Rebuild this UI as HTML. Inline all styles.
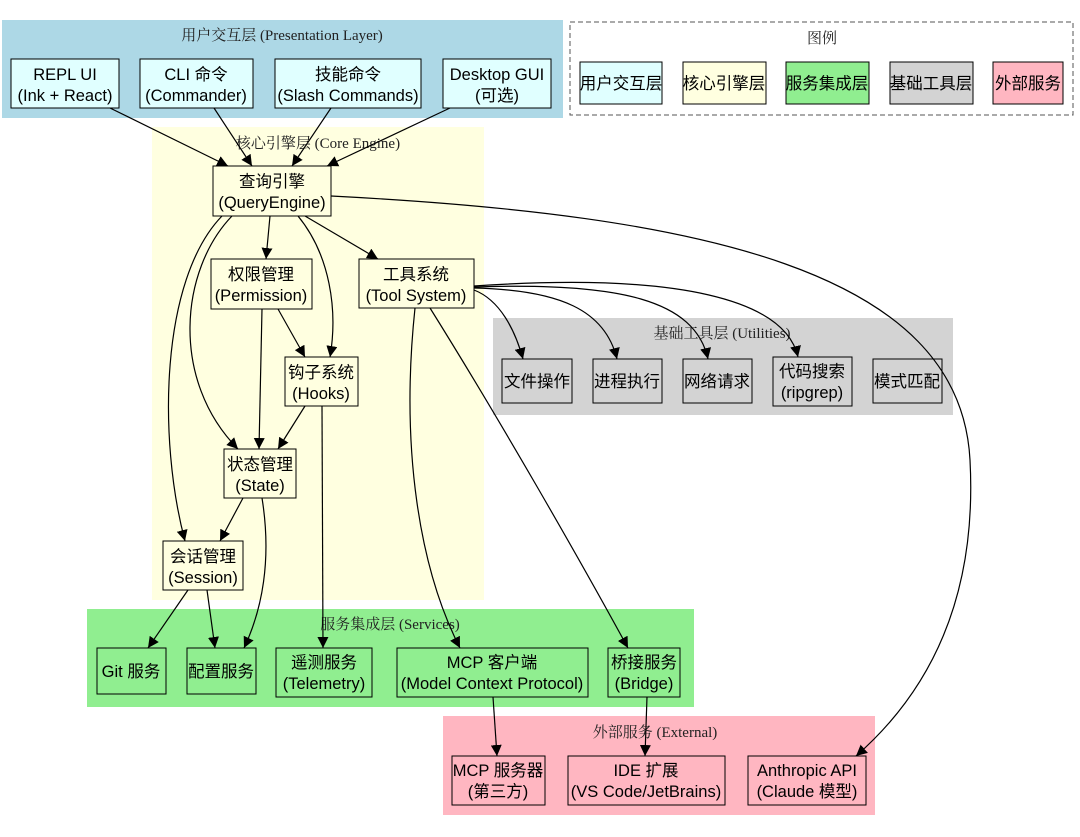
<!DOCTYPE html>
<html><head><meta charset="utf-8"><style>
html,body{margin:0;padding:0;background:#fff}
svg{display:block}
.n{font-family:"Liberation Sans","Noto Sans CJK SC",sans-serif;font-size:16.5px;fill:#000;text-anchor:middle}
.t{font-family:"Liberation Serif","Noto Serif CJK SC",serif;font-size:15px;fill:#222;text-anchor:middle}
.b{stroke:#000;stroke-width:1}
.e{fill:none;stroke:#000;stroke-width:1.2;marker-end:url(#a)}
</style></head><body>
<svg width="1080" height="837" viewBox="0 0 1080 837" xmlns="http://www.w3.org/2000/svg">
<defs><marker id="a" viewBox="0 0 10 10" refX="10" refY="5" markerWidth="11" markerHeight="11" markerUnits="userSpaceOnUse" orient="auto"><path d="M0,0 L10,5 L0,10 z" fill="#000"/></marker></defs>
<rect x="2" y="20" width="561" height="98" fill="#add8e6"/>
<text class="t" x="282" y="40">用户交互层 (Presentation Layer)</text>
<rect x="152" y="127" width="332" height="473" fill="#ffffe0"/>
<text class="t" x="318" y="148">核心引擎层 (Core Engine)</text>
<rect x="493" y="318" width="460" height="97" fill="#d3d3d3"/>
<text class="t" x="722" y="338">基础工具层 (Utilities)</text>
<rect x="87" y="609" width="607" height="98" fill="#90ee90"/>
<text class="t" x="390" y="629">服务集成层 (Services)</text>
<rect x="443" y="716" width="432" height="99" fill="#ffb6c1"/>
<text class="t" x="655" y="737">外部服务 (External)</text>
<rect x="570" y="22" width="503" height="93" fill="#fff" stroke="#555" stroke-dasharray="5,3"/>
<text class="t" x="822" y="43">图例</text>
<rect class="b" x="580" y="62" width="82" height="42" fill="#e0ffff"/><text class="n" x="621" y="89">用户交互层</text>
<rect class="b" x="683" y="62" width="83" height="42" fill="#ffffe0"/><text class="n" x="724" y="89">核心引擎层</text>
<rect class="b" x="786" y="62" width="83" height="42" fill="#90ee90"/><text class="n" x="827" y="89">服务集成层</text>
<rect class="b" x="890" y="62" width="83" height="42" fill="#d3d3d3"/><text class="n" x="931" y="89">基础工具层</text>
<rect class="b" x="993" y="62" width="70" height="42" fill="#ffb6c1"/><text class="n" x="1028" y="89">外部服务</text>
<rect class="b" x="11" y="59" width="108" height="49" fill="#e0ffff"/><text class="n" x="65" y="80">REPL UI</text><text class="n" x="65" y="101">(Ink + React)</text>
<rect class="b" x="140" y="59" width="113" height="49" fill="#e0ffff"/><text class="n" x="196" y="80">CLI 命令</text><text class="n" x="196" y="101">(Commander)</text>
<rect class="b" x="275" y="59" width="146" height="49" fill="#e0ffff"/><text class="n" x="348" y="80">技能命令</text><text class="n" x="348" y="101">(Slash Commands)</text>
<rect class="b" x="443" y="59" width="108" height="49" fill="#e0ffff"/><text class="n" x="497" y="80">Desktop GUI</text><text class="n" x="497" y="101">(可选)</text>
<rect class="b" x="213" y="166" width="118" height="50" fill="#ffffe0"/><text class="n" x="272" y="187">查询引擎</text><text class="n" x="272" y="208">(QueryEngine)</text>
<rect class="b" x="211" y="259" width="101" height="50" fill="#ffffe0"/><text class="n" x="261" y="280">权限管理</text><text class="n" x="261" y="301">(Permission)</text>
<rect class="b" x="359" y="259" width="115" height="49" fill="#ffffe0"/><text class="n" x="416" y="280">工具系统</text><text class="n" x="416" y="301">(Tool System)</text>
<rect class="b" x="285" y="357" width="73" height="49" fill="#ffffe0"/><text class="n" x="321" y="378">钩子系统</text><text class="n" x="321" y="399">(Hooks)</text>
<rect class="b" x="224" y="449" width="72" height="49" fill="#ffffe0"/><text class="n" x="260" y="470">状态管理</text><text class="n" x="260" y="491">(State)</text>
<rect class="b" x="163" y="541" width="80" height="49" fill="#ffffe0"/><text class="n" x="203" y="562">会话管理</text><text class="n" x="203" y="583">(Session)</text>
<rect class="b" x="502" y="359" width="70" height="44" fill="#d3d3d3"/><text class="n" x="537" y="387">文件操作</text>
<rect class="b" x="593" y="359" width="69" height="44" fill="#d3d3d3"/><text class="n" x="627" y="387">进程执行</text>
<rect class="b" x="683" y="359" width="69" height="44" fill="#d3d3d3"/><text class="n" x="717" y="387">网络请求</text>
<rect class="b" x="773" y="357" width="79" height="49" fill="#d3d3d3"/><text class="n" x="812" y="377">代码搜索</text><text class="n" x="812" y="398">(ripgrep)</text>
<rect class="b" x="873" y="359" width="69" height="44" fill="#d3d3d3"/><text class="n" x="907" y="387">模式匹配</text>
<rect class="b" x="97" y="648" width="69" height="46" fill="#90ee90"/><text class="n" x="131" y="677">Git 服务</text>
<rect class="b" x="187" y="648" width="69" height="46" fill="#90ee90"/><text class="n" x="221" y="677">配置服务</text>
<rect class="b" x="276" y="648" width="96" height="49" fill="#90ee90"/><text class="n" x="324" y="668">遥测服务</text><text class="n" x="324" y="689">(Telemetry)</text>
<rect class="b" x="397" y="648" width="191" height="49" fill="#90ee90"/><text class="n" x="492" y="668">MCP 客户端</text><text class="n" x="492" y="689">(Model Context Protocol)</text>
<rect class="b" x="608" y="648" width="72" height="49" fill="#90ee90"/><text class="n" x="644" y="668">桥接服务</text><text class="n" x="644" y="689">(Bridge)</text>
<rect class="b" x="452" y="756" width="93" height="49" fill="#ffb6c1"/><text class="n" x="498" y="776">MCP 服务器</text><text class="n" x="498" y="797">(第三方)</text>
<rect class="b" x="568" y="756" width="157" height="49" fill="#ffb6c1"/><text class="n" x="646" y="776">IDE 扩展</text><text class="n" x="646" y="797">(VS Code/JetBrains)</text>
<rect class="b" x="748" y="756" width="118" height="49" fill="#ffb6c1"/><text class="n" x="807" y="776">Anthropic API</text><text class="n" x="807" y="797">(Claude 模型)</text>
<path class="e" d="M110,108 L228,166"/>
<path class="e" d="M214,108 L252,166"/>
<path class="e" d="M331,108 L292,166"/>
<path class="e" d="M450,108 L327,166"/>
<path class="e" d="M270,216 L266,259"/>
<path class="e" d="M305,216 L378,259"/>
<path class="e" d="M298,216 C330,255 338,310 330,357"/>
<path class="e" d="M232,216 C180,270 170,380 238,449"/>
<path class="e" d="M222,216 C160,280 158,440 185,541"/>
<path class="e" d="M331,196 C700,215 960,270 970,460 C978,610 920,700 856,756"/>
<path class="e" d="M278,309 L305,357"/>
<path class="e" d="M262,309 L259,449"/>
<path class="e" d="M305,406 L278,449"/>
<path class="e" d="M322,406 L323,648"/>
<path class="e" d="M243,498 L220,541"/>
<path class="e" d="M262,498 C272,560 262,610 244,648"/>
<path class="e" d="M188,590 L148,648"/>
<path class="e" d="M207,590 L215,648"/>
<path class="e" d="M474,290 C500,300 515,330 523,359"/>
<path class="e" d="M474,288 C560,290 605,310 617,359"/>
<path class="e" d="M474,287 C620,282 695,300 708,359"/>
<path class="e" d="M474,286 C680,272 785,300 798,357"/>
<path class="e" d="M415,308 C400,450 420,570 460,648"/>
<path class="e" d="M430,308 C500,420 580,560 628,648"/>
<path class="e" d="M493,697 L497,756"/>
<path class="e" d="M647,697 L645,756"/>
</svg>
</body></html>
